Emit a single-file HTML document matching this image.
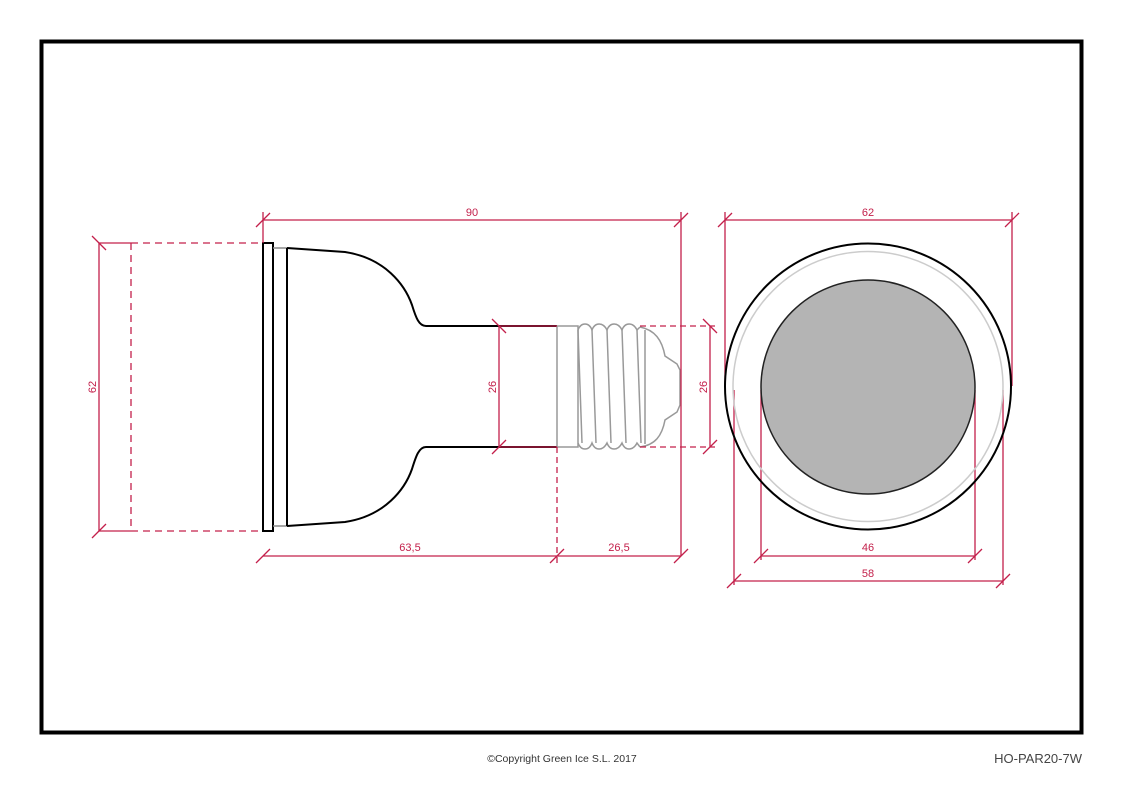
<!DOCTYPE html>
<html><head><meta charset="utf-8"><style>
html,body{margin:0;padding:0;background:#fff;}
svg{display:block;}
text{font-family:"Liberation Sans",Arial,sans-serif;}
</style></head><body>
<svg width="1123" height="793" viewBox="0 0 1123 793" xmlns="http://www.w3.org/2000/svg">
<rect x="0" y="0" width="1123" height="793" fill="#fff"/>
<rect x="41.5" y="41.5" width="1040" height="691" fill="none" stroke="#000" stroke-width="4"/>

<!-- Left view body -->
<g fill="none" stroke="#000" stroke-width="2">
<rect x="263" y="243" width="10" height="288"/>
<path d="M273 248 H287 M273 526 H287" stroke="#888" stroke-width="1.5"/>
<line x1="287" y1="248" x2="287" y2="526"/>
<path d="M287 248 L345 252 C385 258 405 285 412 305 C416 318 419 326 426 326 H557"/>
<path d="M287 526 L345 522 C385 516 405 489 412 469 C416 456 419 447 426 447 H557"/>
</g>
<!-- base -->
<g fill="none" stroke="#999" stroke-width="1.5">
<rect x="557" y="326" width="21" height="121"/>
<path d="M578 330 C581 322 589 322 592 330 C595 322 603 322 607 330 C610 322 618 322 622 330 C625 322 633 322 637 330 L640 327"/>
<path d="M578 443 C581 451 589 451 592 443 C595 451 603 451 607 443 C610 451 618 451 622 443 C625 451 633 451 637 443 L640 447"/>
<path d="M578 330 L582 443 M592 330 L596 443 M607 330 L611 443 M622 330 L626 443 M637 330 L641 443"/>
<path d="M640 327 C655 330 662 340 665 356 L677 364 L680 370 V405 L677 412 L665 420 C662 436 655 445 640 447"/>
<path d="M645 330 V444"/>
</g>

<!-- Dimensions -->
<g stroke="#c3204b" stroke-width="1.3" fill="none">
<!-- 90 -->
<line x1="263" y1="220" x2="681" y2="220"/>
<line x1="263" y1="212" x2="263" y2="243"/>
<line x1="681" y1="212" x2="681" y2="556"/>
<!-- 63.5 / 26.5 -->
<line x1="263" y1="556" x2="681" y2="556"/>
<line x1="557" y1="447" x2="557" y2="563" stroke-dasharray="6,4"/>
<!-- 26 left -->
<line x1="499" y1="326" x2="499" y2="447"/>
<line x1="499" y1="326" x2="557" y2="326"/>
<line x1="499" y1="447" x2="557" y2="447"/>
<!-- 26 right -->
<line x1="710" y1="326" x2="710" y2="447"/>
<line x1="640" y1="326" x2="715" y2="326" stroke-dasharray="6,4"/>
<line x1="640" y1="447" x2="715" y2="447" stroke-dasharray="6,4"/>
<!-- 62 left -->
<line x1="99" y1="243" x2="99" y2="531"/>
<line x1="99" y1="243" x2="131" y2="243"/>
<line x1="99" y1="531" x2="131" y2="531"/>
<line x1="131" y1="243" x2="258" y2="243" stroke-dasharray="7,5"/>
<line x1="131" y1="531" x2="258" y2="531" stroke-dasharray="7,5"/>
<line x1="131" y1="243" x2="131" y2="531" stroke-dasharray="7,5"/>
<!-- right view 62 -->
<line x1="725" y1="220" x2="1012" y2="220"/>
<line x1="725" y1="212" x2="725" y2="386"/>
<line x1="1012" y1="212" x2="1012" y2="386"/>
<!-- 46 -->
<line x1="761" y1="556" x2="975" y2="556"/>
<line x1="761" y1="390" x2="761" y2="560"/>
<line x1="975" y1="390" x2="975" y2="560"/>
<!-- 58 -->
<line x1="734" y1="581" x2="1003" y2="581"/>
<line x1="734" y1="390" x2="734" y2="585"/>
<line x1="1003" y1="390" x2="1003" y2="585"/>
<!-- ticks -->
<path d="M256 227 L270 213 M674 227 L688 213 M256 563 L270 549 M550 563 L564 549 M674 563 L688 549
M492 319 L506 333 M492 454 L506 440 M703 319 L717 333 M703 454 L717 440
M92 236 L106 250 M92 538 L106 524
M718 227 L732 213 M1005 227 L1019 213
M754 563 L768 549 M968 563 L982 549 M727 588 L741 574 M996 588 L1010 574"/>
</g>
<g fill="#c3204b" font-size="11" text-anchor="middle">
<text x="472" y="216">90</text>
<text x="410" y="551">63,5</text>
<text x="619" y="551">26,5</text>
<text x="868" y="216">62</text>
<text x="868" y="551">46</text>
<text x="868" y="577">58</text>
<text transform="translate(496,387) rotate(-90)">26</text>
<text transform="translate(707,387) rotate(-90)">26</text>
<text transform="translate(96,387) rotate(-90)">62</text>
</g>

<!-- Right view -->
<circle cx="868" cy="386.5" r="143" fill="none" stroke="#000" stroke-width="2"/>
<circle cx="868" cy="386.5" r="135" fill="none" stroke="#ccc" stroke-width="1.5"/>
<circle cx="868" cy="387" r="107" fill="#b4b4b4" stroke="#222" stroke-width="1.5"/>

<text x="562" y="762" font-size="10.5" fill="#333" text-anchor="middle">©Copyright Green Ice S.L. 2017</text>
<text x="1082" y="763" font-size="13" fill="#444" text-anchor="end">HO-PAR20-7W</text>
</svg>
</body></html>
